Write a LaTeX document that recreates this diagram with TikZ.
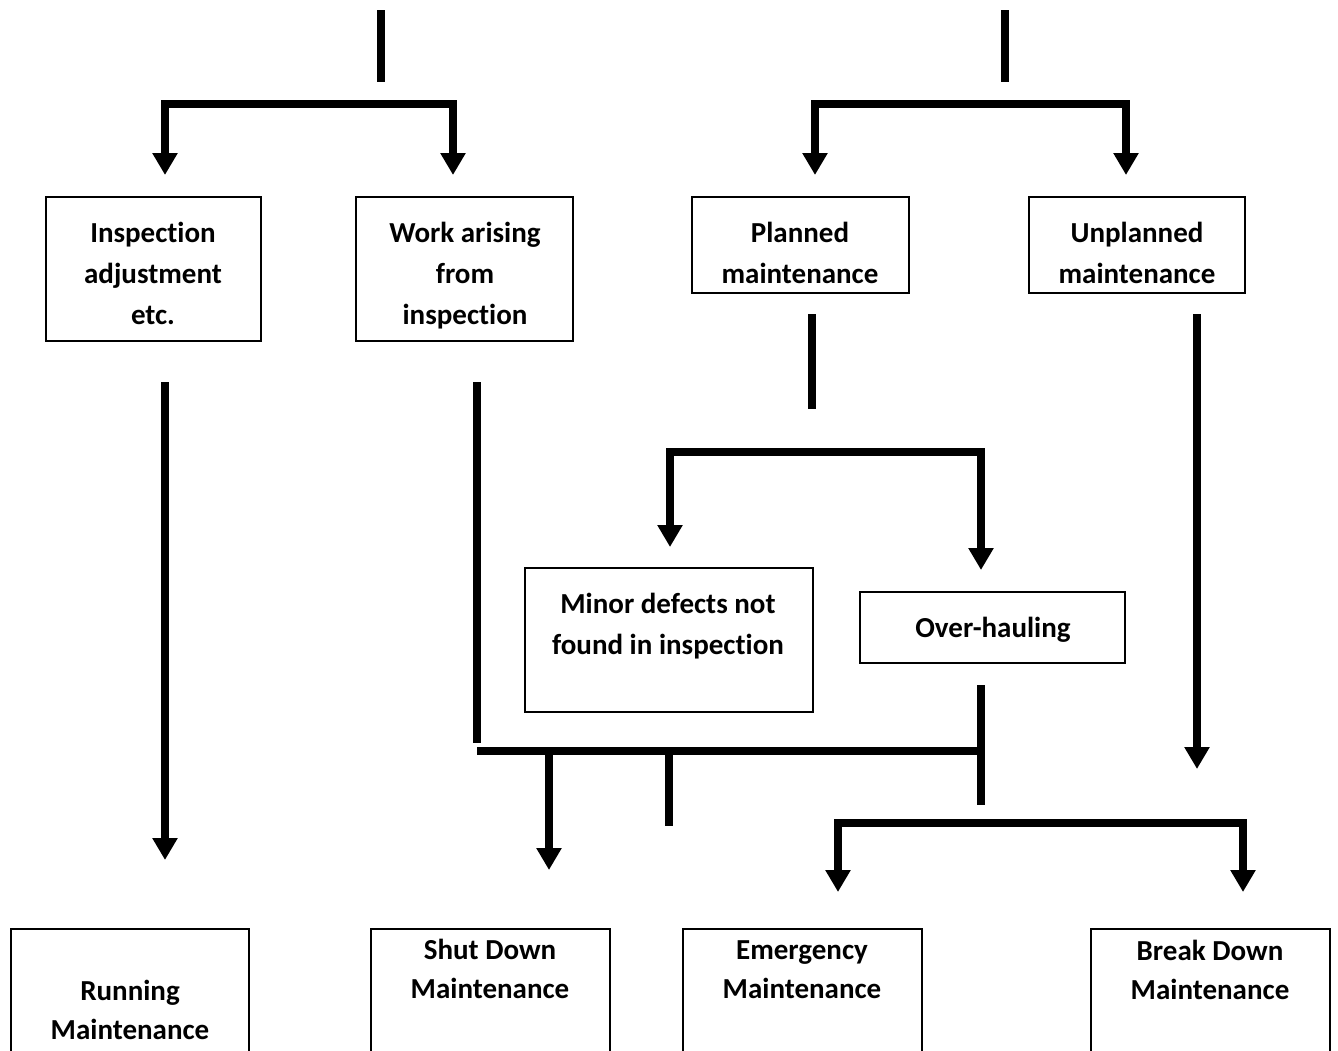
\documentclass[tikz,border=0pt]{standalone}
\usepackage{fontspec}
\setmainfont{Carlito}[Ligatures=NoCommon]
\usetikzlibrary{arrows.meta}
\begin{document}
\begin{tikzpicture}[x=1pt,y=-1pt,
  box/.style={draw, line width=1.5pt, inner sep=0pt},
  txt/.style={align=center, font=\bfseries\fontsize{29}{41}\selectfont, inner sep=0pt},
  txtlow/.style={align=center, font=\bfseries\fontsize{29}{39}\selectfont, inner sep=0pt},
  flow/.style={line width=8pt},
  arr/.style={flow, -{Triangle[width=24pt,length=22pt]}},
  arrs/.style={flow, {Triangle[width=24pt,length=22pt]}-{Triangle[width=24pt,length=22pt]}},
]
\clip (0,0) rectangle (1338,1050);

% ---- first row of boxes
\node[box, minimum width=215, minimum height=144] (ins) at (153.5,269) {};
\node[txt] (inst) at (153,273) {Inspection\\adjustment\\etc.};
\node[box, minimum width=217, minimum height=144] (work) at (464.5,269) {};
\node[txt] (workt) at (465,276) {Work arising\\from\\inspection};
\node[box, minimum width=217, minimum height=96] (plan) at (800.5,245) {};
\node[txt] (plant) at (800,253) {Planned\\maintenance};
\node[box, minimum width=216, minimum height=96] (unpl) at (1137,245) {};
\node[txt] (unplt) at (1137,253) {Unplanned\\maintenance};

% ---- middle boxes
\node[box, minimum width=288, minimum height=144] (minor) at (669,640) {};
\node[txt] (minort) at (668,626) {Minor defects not\\found in inspection};
\node[box, minimum width=265, minimum height=71] (over) at (992.5,627.5) {};
\node[txt] (overt) at (993,630) {Over-hauling};

% ---- bottom boxes (run past the lower edge)
\node[box, minimum width=238, minimum height=200] (run) at (130,1029) {};
\node[txtlow] (runt) at (130,1010) {Running\\Maintenance};
\node[box, minimum width=239, minimum height=200] (shut) at (490.5,1029) {};
\node[txtlow] (shutt) at (490,969) {Shut Down\\Maintenance};
\node[box, minimum width=239, minimum height=200] (emer) at (802.5,1029) {};
\node[txtlow] (emert) at (802,970) {Emergency\\Maintenance};
\node[box, minimum width=239, minimum height=200] (brk) at (1210.5,1029) {};
\node[txtlow] (brkt) at (1210,970) {Break Down\\Maintenance};

% ---- top-left branch
\coordinate (sL1) at (381,10);
\coordinate (sL2) at (381,82);
\draw[flow] (sL1) -- (sL2);
\coordinate (bL1) at (165,104);
\coordinate (bL2) at (453,104);
\coordinate (tIns) at (165,175);
\coordinate (tWork) at (453,175);
\draw[arrs] (tIns) -- (bL1) -- (bL2) -- (tWork);

% ---- top-right branch
\coordinate (sR1) at (1005,10);
\coordinate (sR2) at (1005,82);
\draw[flow] (sR1) -- (sR2);
\coordinate (bR1) at (815,104);
\coordinate (bR2) at (1126,104);
\coordinate (tPlan) at (815,175);
\coordinate (tUnpl) at (1126,175);
\draw[arrs] (tPlan) -- (bR1) -- (bR2) -- (tUnpl);

% ---- inspection -> running maintenance
\coordinate (iA) at (165,382);
\coordinate (tRun) at (165,860);
\draw[arr] (iA) -- (tRun);

% ---- unplanned -> break down
\coordinate (uA) at (1197,314);
\coordinate (tUB) at (1197,769);
\draw[arr] (uA) -- (tUB);

% ---- planned -> minor defects / over-hauling
\coordinate (pA) at (812,314);
\coordinate (pB) at (812,409);
\draw[flow] (pA) -- (pB);
\coordinate (mB1) at (670,452);
\coordinate (mB2) at (981,452);
\coordinate (tMinor) at (670,547);
\coordinate (tOver) at (981,570);
\draw[arrs] (tMinor) -- (mB1) -- (mB2) -- (tOver);

% ---- work arising line
\coordinate (wA) at (477,382);
\coordinate (wB) at (477,743);
\draw[flow] (wA) -- (wB);

% ---- over-hauling stem and collecting bar
\coordinate (oA) at (981,685);
\coordinate (oB) at (981,805);
\draw[flow] (oA) -- (oB);
\coordinate (hL) at (477,751);
\coordinate (hR) at (981,751);
\draw[flow] (hL) -- (hR);
\coordinate (sdA) at (549,751);
\coordinate (tShut) at (549,870);
\draw[arr] (sdA) -- (tShut);
\coordinate (stA) at (669,751);
\coordinate (stB) at (669,826);
\draw[flow] (stA) -- (stB);

% ---- lower bracket -> emergency / break down
\coordinate (lB1) at (838,823);
\coordinate (lB2) at (1243,823);
\coordinate (tEmer) at (838,892);
\coordinate (tBrk) at (1243,892);
\draw[arrs] (tEmer) -- (lB1) -- (lB2) -- (tBrk);
\end{tikzpicture}
\end{document}
